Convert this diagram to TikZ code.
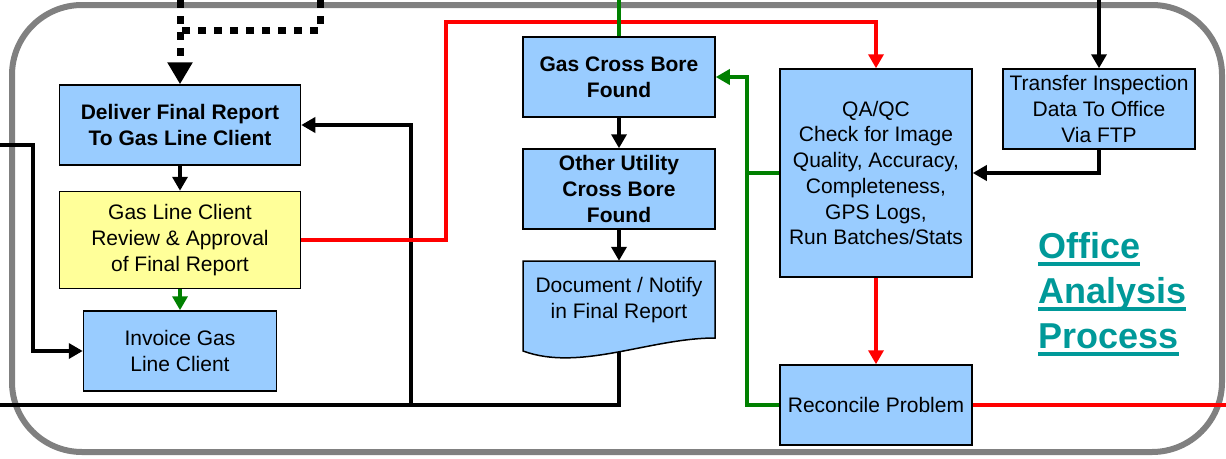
\documentclass[tikz,border=0pt]{standalone}
\usepackage{fontspec}
\setmainfont{Liberation Sans}
\usepackage{xcolor}
\usetikzlibrary{arrows.meta, positioning, calc}

\definecolor{boxblue}{HTML}{99CCFF}
\definecolor{boxyellow}{HTML}{FFFF99}
\definecolor{flowgreen}{HTML}{008000}
\definecolor{titleteal}{HTML}{009999}
\definecolor{framegray}{HTML}{808080}

\begin{document}
\begin{tikzpicture}[x=1pt, y=-1pt, >={Triangle[width=15pt,length=14pt]},
    every node/.style={font=\fontsize{21}{25.7}\selectfont, align=center, inner sep=0pt},
    stepbox/.style={rectangle, draw, line width=1.5pt, fill=boxblue, minimum width=192pt, minimum height=80pt},
    titleword/.style={anchor=base west, text=titleteal, font=\bfseries\fontsize{36}{45}\selectfont},
    blk/.style={line width=4pt},
    redl/.style={line width=4pt, red},
    grn/.style={line width=4pt, flowgreen},
    dots/.style={line width=7pt, dash pattern=on 8pt off 8pt}]
    \useasboundingbox (0,0) rectangle (1226,458);
    \draw[framegray, line width=6pt, rounded corners=70pt] (12,5) rectangle (1222,452);

    % left column
    \node[stepbox, minimum width=241pt, font=\bfseries\fontsize{21}{25.7}\selectfont] (deliver) at (180,125) {Deliver Final Report\\To Gas Line Client};
    \node[stepbox, minimum width=241pt, minimum height=97pt, fill=boxyellow] (review) at (180,240) {Gas Line Client\\Review \& Approval\\of Final Report};
    \node[stepbox, minimum width=193pt] (invoice) at (180,351) {Invoice Gas\\Line Client};

    % middle column
    \node[stepbox, font=\bfseries\fontsize{21}{25.7}\selectfont] (gascb) at (619,77) {Gas Cross Bore\\Found};
    \node[stepbox, font=\bfseries\fontsize{21}{25.7}\selectfont] (other) at (619,189) {Other Utility\\Cross Bore\\Found};
    \filldraw[fill=boxblue, line width=1.5pt] (523,261) -- (715,261) -- (715,338)
        .. controls (650,338) and (580,372) .. (523,351) -- cycle;
    \node[minimum width=192pt, minimum height=78pt] (doc) at (619,300) {Document / Notify\\in Final Report};
    \coordinate (docb) at (619,352);

    % right column
    \node[stepbox, minimum height=208pt] (qa) at (876,173) {QA/QC\\Check for Image\\Quality, Accuracy,\\Completeness,\\GPS Logs,\\Run Batches/Stats};
    \node[stepbox] (transfer) at (1099,109) {Transfer Inspection\\Data To Office\\Via FTP};
    \node[stepbox] (recon) at (876,405) {Reconcile Problem};

    % title, underlined by hand
    \node[titleword] (office) at (1038,258) {Office};
    \node[titleword] (analysis) at (1038,303) {Analysis};
    \node[titleword] (process) at (1038,348) {Process};
    \foreach \w in {office, analysis, process}
        \draw[titleteal, line width=3.5pt] ($(\w.base west)+(0,6)$) -- ($(\w.base east)+(0,6)$);

    % loose ends
    \coordinate (topA) at (180,0);
    \coordinate (topB) at (320,0);
    \coordinate (topG) at (619,0);
    \coordinate (topT) at (1099,0);
    \coordinate (inL) at (0,145);
    \coordinate (outL) at (0,405);
    \coordinate (outR) at (1226,405);

    \draw[dots, -{Triangle[width=24pt,length=22pt]}] (topA) -- (deliver);
    \draw[dots] (topB) |- (180,30);
    \draw[blk, ->] (deliver) -- (review);
    \draw[grn, ->] (review) -- (invoice);
    \draw[blk, ->] (inL) -- (33,145) |- (invoice.west);
    \draw[blk] (docb) |- (outL);
    \draw[blk, ->] (411,405) |- (deliver.east);
    \draw[redl, ->] (review.east) -| (446,22) -| (qa.north);
    \draw[redl, ->] (qa) -- (recon);
    \draw[redl] (recon) -- (outR);
    \draw[grn] (topG) -- (gascb);
    \draw[grn, ->] (recon.west) -- (747,405) |- (gascb.east);
    \draw[grn] (qa.west) -- (747,173);
    \draw[blk, ->] (topT) -- (transfer);
    \draw[blk, ->] (transfer.south) |- (qa.east);
    \draw[blk, ->] (gascb) -- (other);
    \draw[blk, ->] (other) -- (doc.north);
\end{tikzpicture}
\end{document}
